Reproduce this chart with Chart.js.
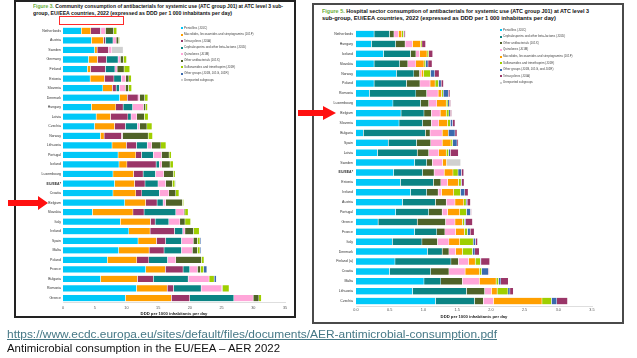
<!DOCTYPE html>
<html><head><meta charset="utf-8">
<script src="https://cdn.jsdelivr.net/npm/chart.js@4.4.1/dist/chart.umd.min.js"></script>
<style>
html,body{margin:0;padding:0;background:#fff;width:637px;height:358px;overflow:hidden;font-family:"Liberation Sans",Arial,sans-serif;}
.abs{position:absolute;}
.frame{position:absolute;box-sizing:border-box;background:#fff;}
#f1{left:14px;top:0px;width:282px;height:318px;border:2px solid #222;}
#f2{left:312px;top:3px;width:312px;height:321px;border:2px solid #4a4a4a;}
.t{position:absolute;white-space:nowrap;font-weight:bold;color:#111;transform-origin:0 0;line-height:1;}
.t span{color:#6CAE3C}
canvas{position:absolute;}
.leg{position:absolute;font-size:3px;color:#444;white-space:nowrap;line-height:1;}
.leg i{position:absolute;left:-3px;top:0.6px;width:2px;height:2px;}
.cap{position:absolute;white-space:nowrap;font-size:10.5px;line-height:1;transform-origin:0 0;}
</style>
</head><body>
<div class="frame" id="f1"></div>
<div class="frame" id="f2"></div>
<canvas id="c1" width="278" height="295" style="left:16px;top:22px;"></canvas>
<canvas id="c2" width="307" height="297" style="left:314px;top:24px;"></canvas>

<div class="t" id="t1a" style="left:33px;top:4.7px;font-size:4.6px;"><span>Figure 3.</span> Community consumption of antibacterials for systemic use (ATC group J01) at ATC level 3 sub-</div>
<div class="t" id="t1b" style="left:33px;top:11.7px;font-size:4.6px;">group, EU/EEA countries, 2022 (expressed as DDD per 1 000 inhabitants per day)</div>
<div class="t" id="t2a" style="left:322px;top:9.7px;font-size:4.6px;"><span>Figure 5.</span> Hospital sector consumption of antibacterials for systemic use (ATC group J01) at ATC level 3</div>
<div class="t" id="t2b" style="left:322px;top:17.4px;font-size:4.6px;">sub-group, EU/EEA countries, 2022 (expressed as DDD per 1 000 inhabitants per day)</div>

<div class="abs" style="left:59px;top:16px;width:63px;height:7px;border:1px solid #ff2a2a;"></div>

<div id="leg1"></div>
<div id="leg2"></div>

<svg class="abs" style="left:0;top:0;" width="637" height="358">
  <polygon points="8,200 38,200 38,196 48,203 38,210 38,206 8,206" fill="#ff1010"/>
  <polygon points="298,110 323,110 323,106 336,113 323,120 323,116 298,116" fill="#ff1010"/>
</svg>

<div class="cap" id="url" style="left:7px;top:329px;color:#467886;text-decoration:underline;">https://www.ecdc.europa.eu/sites/default/files/documents/AER-antimicrobial-consumption.pdf</div>
<div class="cap" id="capt" style="left:7px;top:343px;color:#111;">Antimicrobial consumption in the EU/EEA – AER 2022</div>

<script>
// ---------- Figure 3: community sector ----------
const communityCountries = ["Netherlands","Austria","Sweden","Germany","Finland","Estonia","Slovenia","Denmark","Hungary","Latvia","Czechia","Norway","Lithuania","Portugal","Iceland","Luxembourg","EU/EEA*","Croatia","Belgium","Slovakia","Italy","Ireland","Spain","Malta","Poland","France","Bulgaria","Romania","Greece"];
const communityJ01C = [2.9,4.5,5.0,4.05,3.85,4.3,6.3,8.95,4.5,5.25,5.0,5.9,7.75,8.7,8.85,7.9,8.15,7.9,9.75,4.65,9.05,10.4,11.85,8.8,7.0,13.05,5.95,11.6,9.85];
const communityJ01F = [1.5,1.9,0.4,1.4,0.5,2.25,1.5,1.2,3.85,2.25,3.15,0.6,2.25,2.8,1.25,3.25,3.15,3.6,3.3,6.4,4.75,3.35,2.9,4.8,4.65,3.1,5.8,4.85,7.25];
const communityJ01A = [1.5,0.3,1.8,1.4,2.35,1.5,0.6,1.7,1.15,2.75,1.7,2.75,1.6,0.9,4.6,1.5,1.65,0.95,1.8,1.75,0.75,3.85,1.45,2.35,1.9,2.8,2.5,1.0,2.9];
const communityJ01D = [0.1,1.2,0,1.85,1.5,1.15,0.5,0,1.5,0.5,1.9,0,1.7,1.85,0.5,1.95,2.05,2.75,0.95,5.0,2.15,1.3,2.5,2.75,2.95,1.05,5.5,4.35,6.95];
const communityJ01M = [0.7,0.5,0.5,0.35,0.35,0.7,0.95,0.25,1.7,0.9,0.35,0.15,0.7,1.3,0.4,1.3,1.2,1.5,0.4,1.3,1.75,0.35,1.85,1.7,1.3,1.2,3.3,3.25,3.05];
const communityJ01X = [1.3,0.4,0,0.5,1.1,0.5,0.5,0.8,0.35,1.2,1.15,4.05,1.45,1.2,1.3,1.5,1.05,1.1,2.65,0.15,0.8,1.35,0.65,0.8,4.05,0.5,0,0.1,0.9];
const communityJ01E = [0.5,0.15,0,0.5,0.9,0.4,0.5,0.5,0.3,0.6,0.8,0.7,0.8,0.35,0.5,0.3,0.4,0.5,0.2,0.5,0.9,0.9,0.4,0.4,0.4,0.5,0.8,1.05,0.4];
const communityOther = [0,0,0,0,0,0,0,0,0,0,0,0,0,0,0,0,0.1,0,0,0,0,0,0.15,0.15,0,0.5,0.35,0,0];
const communityUnreported = [0,0,1.8,0,0,0,0,0,0,0,0,0,0,0,0,0,0,0,0,0,0,0,0,0,0,0,0,0,0];
const communitySeriesNames = ["Penicillins (J01C)","Macrolides, lincosamides and streptogramins (J01F)","Tetracyclines (J01A)","Cephalosporins and other beta-lactams (J01D)","Quinolones (J01M)","Other antibacterials (J01X)","Sulfonamides and trimethoprim (J01E)","Other groups (J01B, J01G, J01R)","Unreported subgroups"];
const communityTickLabels = ["0","5","10","15","20","25","30","35"];

// ---------- Figure 5: hospital sector ----------
const hospitalCountries = ["Netherlands","Hungary","Iceland","Slovakia","Norway","Poland","Romania","Luxembourg","Belgium","Slovenia","Bulgaria","Spain","Latvia","Sweden","EU/EEA*","Estonia","Ireland","Austria","Portugal","Greece","France","Italy","Denmark","Finland (a)","Croatia","Malta","Lithuania","Czechia"];
const hospitalJ01C = [0.27,0.23,0.41,0.27,0.6,0.27,0.2,0.55,0.67,0.64,0.11,0.48,0.32,0.87,0.56,0.66,0.81,0.69,0.59,0.33,0.87,0.54,1.06,0.58,0.5,1.01,0.84,1.18];
const hospitalJ01D = [0.23,0.36,0.40,0.38,0.26,0.48,0.69,0.41,0.34,0.35,0.92,0.42,0.59,0.18,0.43,0.49,0.24,0.49,0.49,0.58,0.33,0.44,0.22,0.83,0.61,0.25,0.8,0.58];
const hospitalJ01X = [0.065,0.14,0.08,0.12,0.085,0.2,0.16,0.12,0.11,0.13,0.07,0.21,0.17,0.085,0.17,0.11,0.17,0.16,0.2,0.42,0.12,0.23,0.1,0.11,0.27,0.32,0.27,0.13];
const hospitalJ01M = [0.065,0.11,0.055,0.12,0.025,0.15,0.17,0.12,0.13,0.11,0.18,0.17,0.15,0.15,0.15,0.1,0.05,0.13,0.08,0.14,0.16,0.17,0.1,0.15,0.24,0.25,0.1,0.15];
const hospitalJ01F = [0.05,0.12,0.11,0.12,0.035,0.075,0.05,0.14,0.09,0.13,0.09,0.13,0.11,0.06,0.13,0.16,0.18,0.13,0.18,0.11,0.13,0.16,0.1,0.1,0.21,0.25,0.085,0.72];
const hospitalJ01E = [0.025,0.02,0.025,0.025,0.1,0.05,0.025,0.025,0.04,0.04,0,0.025,0.035,0,0.075,0.04,0.1,0.035,0.1,0.03,0.045,0.2,0.15,0.075,0.035,0.035,0.16,0.14];
const hospitalOther = [0.01,0,0,0.035,0.065,0.04,0.075,0.02,0.02,0.035,0.1,0.065,0.025,0,0.05,0.01,0.065,0.015,0.06,0.02,0.04,0.035,0.035,0.01,0.1,0.035,0.03,0.08];
const hospitalJ01A = [0.02,0.055,0.06,0.06,0.065,0.035,0.025,0.02,0.02,0.035,0.03,0.02,0.12,0,0.035,0.035,0.05,0.05,0.015,0.1,0.06,0.03,0.065,0.13,0.015,0.11,0.05,0.16];
const hospitalUnreported = [0,0,0,0,0,0,0,0,0,0,0,0,0,0.21,0,0,0,0,0,0,0,0,0,0,0,0,0,0];
const hospitalSeriesNames = ["Penicillins (J01C)","Cephalosporins and other beta-lactams (J01D)","Other antibacterials (J01X)","Quinolones (J01M)","Macrolides, lincosamides and streptogramins (J01F)","Sulfonamides and trimethoprim (J01E)","Other groups (J01B, J01G, and J01R)","Tetracyclines (J01A)","Unreported subgroups"];
const hospitalTickLabels = ["0.0","0.5","1.0","1.5","2.0","2.5","3.0","3.5"];

const C = {J01C:'#00C8F8',J01F:'#FF9F00',J01A:'#9A3668',J01D:'#0B8484',J01M:'#FFA6D9',J01X:'#4F6228',J01E:'#9FCF00',OTH:'#3B6AAE',UNR:'#D0D0D0'};
const F = '"Liberation Sans", Arial, sans-serif';

function build(id, cats, series, colors, names, xmax, step, tickLabels, cfg){
  return new Chart(document.getElementById(id), {
    type:'bar',
    data:{labels:cats, datasets: series.map((d,i)=>({label:names[i], data:d, backgroundColor:colors[i],
      borderColor:'rgba(255,255,255,0.85)', borderWidth:0.4, barPercentage:cfg.barPct, categoryPercentage:1}))},
    options:{
      indexAxis:'y', responsive:false, animation:false, devicePixelRatio:1,
      layout:{padding:cfg.pad},
      plugins:{legend:{display:false}, tooltip:{enabled:false}},
      scales:{
        x:{stacked:true, min:0, max:xmax,
          grid:{display:false, drawTicks:false},
          border:{display:true, color:'#c8c8c8', width:0.6},
          ticks:{stepSize:step, padding:cfg.tickPad, font:{size:3.8, family:F}, color:'#555', maxRotation:0, autoSkip:false,
            callback:(v,i)=>tickLabels[i]},
          title:{display:true, text:'DDD per 1000 inhabitants per day', font:{size:4.2, weight:'bold', family:F}, color:'#222',
            padding:{top:0, bottom:cfg.titlePadB}},
          afterFit:s=>{s.height = cfg.xh;}
        },
        y:{stacked:true,
          grid:{display:false, drawTicks:false},
          border:{display:false},
          ticks:{autoSkip:false, padding:cfg.labelPad, color:'#333',
            font:c=>({size:3.5, family:F, weight: cats[c.index]==='EU/EEA*' ? 'bold' : 'normal'})},
          afterFit:s=>{s.width = cfg.yw;}
        }
      }
    }
  });
}

build('c1', communityCountries,
  [communityJ01C,communityJ01F,communityJ01A,communityJ01D,communityJ01M,communityJ01X,communityJ01E,communityOther,communityUnreported],
  [C.J01C,C.J01F,C.J01A,C.J01D,C.J01M,C.J01X,C.J01E,C.OTH,C.UNR],
  communitySeriesNames, 35, 5, communityTickLabels,
  {barPct:0.74, pad:{top:2.2,right:9,bottom:0,left:0}, xh:14.2, tickPad:3.2, titlePadB:0.2, labelPad:2, yw:47});

build('c2', hospitalCountries,
  [hospitalJ01C,hospitalJ01D,hospitalJ01X,hospitalJ01M,hospitalJ01F,hospitalJ01E,hospitalOther,hospitalJ01A,hospitalUnreported],
  [C.J01C,C.J01D,C.J01X,C.J01M,C.J01F,C.J01E,C.OTH,C.J01A,C.UNR],
  hospitalSeriesNames, 3.5, 0.5, hospitalTickLabels,
  {barPct:0.74, pad:{top:2,right:29,bottom:0,left:0}, xh:15, tickPad:1.4, titlePadB:1.6, labelPad:3, yw:42});

function legend(host, names, colors, x, y0, dy){
  const h = document.getElementById(host);
  names.forEach((n,i)=>{
    const d = document.createElement('div');
    d.className='leg';
    d.style.left = x+'px';
    d.style.top = (y0 + i*dy - 1.5)+'px';
    d.innerHTML = '<i style="background:'+colors[i]+'"></i>'+n;
    h.appendChild(d);
  });
}
legend('leg1', communitySeriesNames, [C.J01C,C.J01F,C.J01A,C.J01D,C.J01M,C.J01X,C.J01E,C.OTH,C.UNR], 184, 28.3, 6.5);
legend('leg2', hospitalSeriesNames, [C.J01C,C.J01D,C.J01X,C.J01M,C.J01F,C.J01E,C.OTH,C.J01A,C.UNR], 503, 30.3, 6.55);

function fit(id, w){
  const el = document.getElementById(id);
  const cw = el.getBoundingClientRect().width;
  el.style.transform = 'scaleX(' + (w/cw) + ')';
}
fit('t1a', 250); fit('t1b', 199);
fit('t2a', 267); fit('t2b', 234);
fit('url', 490); fit('capt', 273);
</script>
</body></html>
